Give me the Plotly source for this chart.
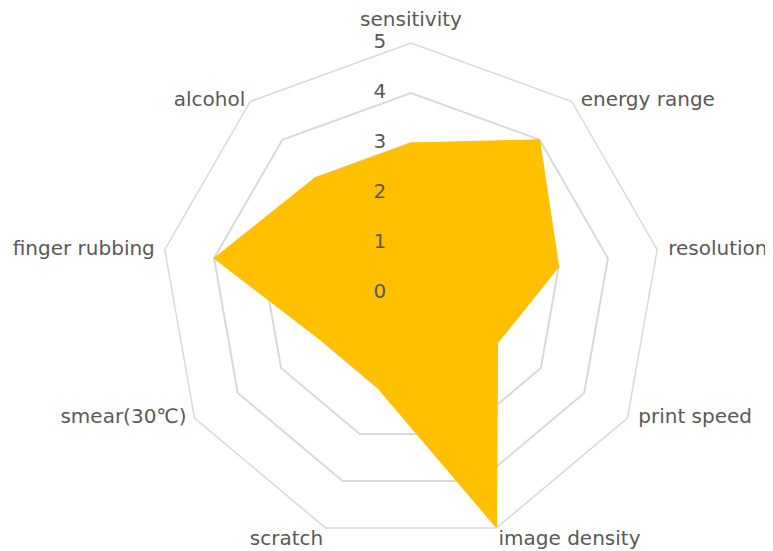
import plotly.graph_objects as go

# ---- data ----
categories = ["sensitivity", "energy range", "resolution", "print speed", "image density",
              "scratch", "smear(30℃)", "finger rubbing", "alcohol"]
values = [3, 4, 3, 2, 5, 2, 2, 4, 3]
radial_ticks = [0, 1, 2, 3, 4, 5]
radial_tick_text = ["0", "1", "2", "3", "4", "5"]

# ---- styles / layout ----
label_positions = ["top center", "middle right", "middle right", "middle right", "bottom right",
                   "bottom left", "middle left", "middle left", "middle left"]
label_offsets = [18.0, 12.8, 16.0, 15.6, 1.6, 2.0, 11.0, 14.4, 6.4]  # invisible marker sizes

W, H = 773, 551
PAGE_OFFSET = 8            # default body margin of the html page
cx, cy, R = 411 - PAGE_OFFSET, 293 - PAGE_OFFSET, 250
FONT = "DejaVu Sans, Liberation Sans, Arial, sans-serif"
GRAY = "#595959"
n = len(categories)

fig = go.Figure()
fig.add_trace(go.Scatterpolar(
    r=values + values[:1],
    theta=categories + categories[:1],
    fill="toself",
    fillcolor="#FFC000",
    line=dict(color="#FFC000", width=1),
    mode="lines",
    hoverinfo="skip",
))

# category labels at the outer ring
fig.add_trace(go.Scatterpolar(
    r=[radial_ticks[-1]] * n,
    theta=categories,
    mode="markers+text",
    text=categories,
    textposition=label_positions,
    marker=dict(size=label_offsets, opacity=0),
    textfont=dict(family=FONT, size=20, color=GRAY),
    cliponaxis=False,
    hoverinfo="skip",
))

# radial tick labels, left of the vertical axis
# (the centre point itself is rejected by plotly's polygon test, so nudge it by a hair)
fig.add_trace(go.Scatterpolar(
    r=[max(t, 1e-6) for t in radial_ticks],
    theta=[categories[0]] * len(radial_ticks),
    mode="markers+text",
    text=radial_tick_text,
    textposition="middle left",
    marker=dict(size=38, opacity=0),
    textfont=dict(family=FONT, size=20, color=GRAY),
    cliponaxis=False,
    hoverinfo="skip",
))

fig.update_layout(
    width=W, height=H,
    margin=dict(l=0, r=0, t=0, b=0),
    paper_bgcolor="white",
    showlegend=False,
    font=dict(family=FONT, size=20, color=GRAY),
    polar=dict(
        bgcolor="white",
        gridshape="linear",
        domain=dict(x=[(cx - R) / W, (cx + R) / W],
                    y=[(H - cy - R) / H, (H - cy + R) / H]),
        angularaxis=dict(
            direction="clockwise", rotation=90,
            showgrid=False, showline=True, linecolor="#d9d9d9", linewidth=1.5,
            ticks="", showticklabels=False,
        ),
        radialaxis=dict(
            range=[0, 5], tickvals=radial_ticks, angle=90,
            showline=False, ticks="", showticklabels=False,
            gridcolor="#d9d9d9", gridwidth=1.5,
        ),
    ),
)
fig.write_html("out.html")
